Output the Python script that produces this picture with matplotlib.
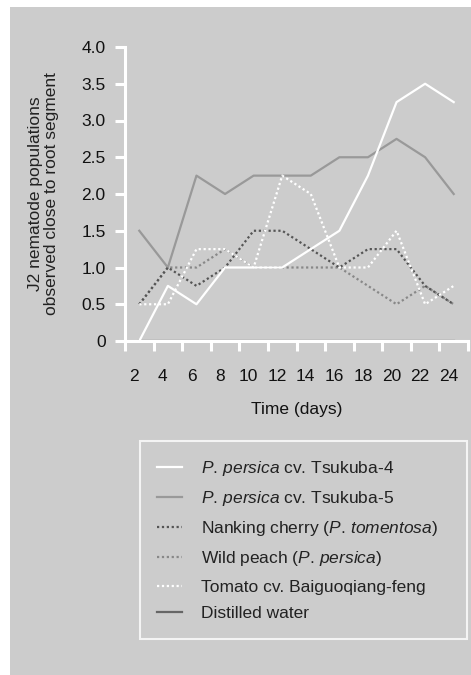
import matplotlib
matplotlib.use("Agg")
import matplotlib.pyplot as plt
from matplotlib.patches import Rectangle
from matplotlib.transforms import ScaledTranslation
import numpy as np

plt.rcParams['font.family'] = ['Liberation Sans', 'DejaVu Sans']
plt.rcParams['mathtext.fontset'] = 'custom'
plt.rcParams['mathtext.rm'] = 'Liberation Sans'
plt.rcParams['mathtext.it'] = 'Liberation Sans:italic'

# data
days = [2, 4, 6, 8, 10, 12, 14, 16, 18, 20, 22, 24]
tsukuba4 = [0, 0.75, 0.5, 1.0, 1.0, 1.0, 1.25, 1.5, 2.25, 3.25, 3.5, 3.25]
tsukuba5 = [1.5, 1.0, 2.25, 2.0, 2.25, 2.25, 2.25, 2.5, 2.5, 2.75, 2.5, 2.0]
nanking = [0.5, 1.0, 0.75, 1.0, 1.5, 1.5, 1.25, 1.0, 1.25, 1.25, 0.75, 0.5]
wild_peach = [0.5, 1.0, 1.0, 1.25, 1.0, 1.0, 1.0, 1.0, 0.75, 0.5, 0.75, 0.5]
tomato = [0.5, 0.5, 1.25, 1.25, 1.0, 2.25, 2.0, 1.0, 1.0, 1.5, 0.5, 0.75]
water = [0, 0, 0, 0, 0, 0, 0, 0, 0, 0, 0, 0]

yticks = [0, 0.5, 1.0, 1.5, 2.0, 2.5, 3.0, 3.5, 4.0]
ytick_labels = ["0", "0.5", "1.0", "1.5", "2.0", "2.5", "3.0", "3.5", "4.0"]

FS = 12.5

fig = plt.figure(figsize=(4.71, 6.75), dpi=100, facecolor='white')
# gray panel behind everything
fig.patches.append(Rectangle((10 / 471, 0), 1, 1 - 7 / 675, transform=fig.transFigure,
                             facecolor='#cccccc', edgecolor='none', zorder=-5))

ax = fig.add_axes([125 / 471, 1 - 341 / 675, 343 / 471, 294 / 675])
ax.set_facecolor('none')

x = np.arange(len(days))
ax.plot(x, water, color='#666666', lw=1.6, label='Distilled water', zorder=1)
ax.plot(x, tsukuba5, color='#999999', lw=1.6, label=r'$\it{P.\,persica}$ cv. Tsukuba-5')
ax.plot(x, wild_peach, color='#888888', lw=1.6, ls=(0, (1, 1.2)), label=r'Wild peach ($\it{P.\,persica}$)')
ax.plot(x, nanking, color='#555555', lw=1.6, ls=(0, (1, 1.2)), label=r'Nanking cherry ($\it{P.\,tomentosa}$)')
ax.plot(x, tomato, color='white', lw=1.6, ls=(0, (1, 1.2)), label='Tomato cv. Baiguoqiang-feng')
ax.plot(x, tsukuba4, color='white', lw=1.6, label=r'$\it{P.\,persica}$ cv. Tsukuba-4')

ax.set_xlim(-0.5, 11.5)
ax.set_ylim(0, 4.0)

for s in ['top', 'right']:
    ax.spines[s].set_visible(False)
for s in ['left', 'bottom']:
    ax.spines[s].set_color('white')
    ax.spines[s].set_linewidth(2.2)

ax.set_yticks(yticks)
ax.set_yticklabels(ytick_labels)
ax.set_xticks(x)
ax.set_xticklabels([str(d) for d in days])
ax.set_xticks(np.arange(-0.5, 12, 1), minor=True)
ax.tick_params(axis='x', which='major', length=0, pad=20, labelsize=FS, colors='#111111')
ax.tick_params(axis='x', which='minor', length=7, width=2.2, color='white')
ax.tick_params(axis='y', length=7, width=2.2, color='white', labelsize=FS,
               labelcolor='#111111', pad=7)
# labels sit a little left of the data points in the original
shift = ScaledTranslation(-5 / 100, 0, fig.dpi_scale_trans)
for lab in ax.get_xticklabels():
    lab.set_transform(lab.get_transform() + shift)

ax.set_xlabel('Time (days)', fontsize=FS, color='#111111', labelpad=13)
ax.set_ylabel('J2 nematode populations\nobserved close to root segment',
              fontsize=FS, color='#222222', labelpad=16, linespacing=1.1)

# legend order as in the reference
h, l = ax.get_legend_handles_labels()
order = [5, 1, 3, 2, 4, 0]
leg = fig.legend([h[i] for i in order], [l[i] for i in order],
                 loc='upper left', mode='expand',
                 bbox_to_anchor=(140 / 471, 1 - 448 / 675, 327 / 471, 0.01),
                 bbox_transform=fig.transFigure, fontsize=FS, frameon=True,
                 fancybox=False, handlelength=1.4, handletextpad=1.1,
                 labelspacing=0.65, borderpad=1.0, borderaxespad=0)
leg.get_frame().set_facecolor('none')
leg.get_frame().set_edgecolor('white')
leg.get_frame().set_linewidth(1.5)
for t in leg.get_texts():
    t.set_color('#222222')

fig.savefig('out.png', dpi=100, facecolor='white')
